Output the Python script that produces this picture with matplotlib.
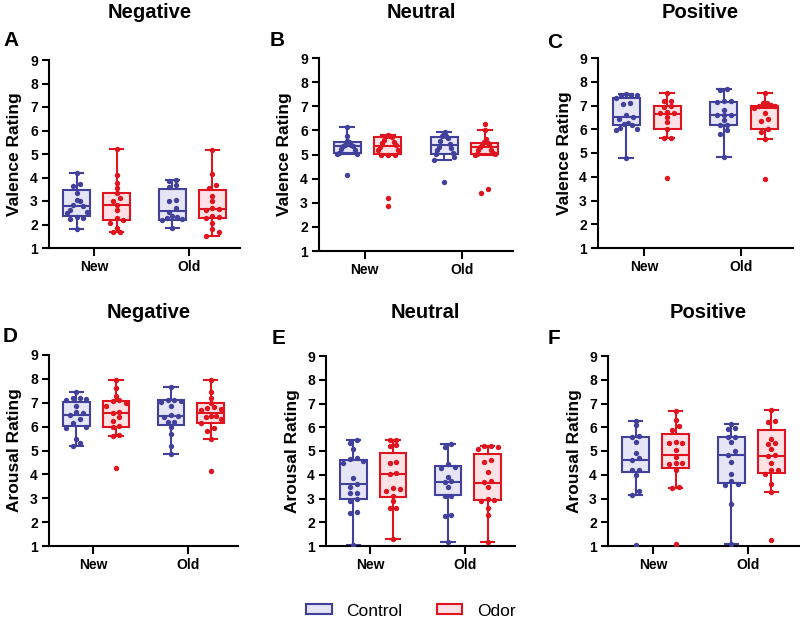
import numpy as np
import matplotlib
matplotlib.use("Agg")
import matplotlib.pyplot as plt
from matplotlib.patches import Patch

plt.rcParams['font.family'] = ['Liberation Sans', 'DejaVu Sans']

groups = ["New", "Old"]
conditions = ["Control", "Odor"]
panel_letters = ["A", "B", "C", "D", "E", "F"]
panel_titles = ["Negative", "Neutral", "Positive", "Negative", "Neutral", "Positive"]
ylabels = ["Valence Rating"] * 3 + ["Arousal Rating"] * 3
yticks = [1, 2, 3, 4, 5, 6, 7, 8, 9]

# ---- individual ratings (order within panel: Control-New, Odor-New, Control-Old, Odor-Old)
A_pts = [
    [4.2, 3.72, 3.62, 3.35, 3.05, 3.0, 2.85, 2.78, 2.62, 2.52, 2.48, 2.3, 2.28, 2.22, 1.82],
    [5.2, 4.1, 3.78, 3.55, 3.33, 3.12, 2.98, 2.82, 2.62, 2.28, 2.2, 2.05, 1.85, 1.68, 1.68],
    [3.9, 3.87, 3.68, 3.6, 3.05, 3.0, 2.7, 2.55, 2.35, 2.3, 2.28, 2.25, 2.2, 1.85],
    [5.15, 4.14, 3.68, 3.55, 3.2, 3.02, 2.7, 2.65, 2.6, 2.35, 2.3, 2.28, 2.05, 1.82, 1.68, 1.52],
]
B_pts = [
    [6.12, 5.78, 5.55, 5.5, 5.4, 5.38, 5.36, 5.35, 5.22, 5.2, 5.05, 5.03, 5.02, 4.17],
    [5.8, 5.78, 5.75, 5.72, 5.6, 5.5, 5.48, 5.4, 5.3, 5.2, 5.18, 5.0, 4.98, 4.97, 3.2, 2.85],
    [5.93, 5.8, 5.78, 5.75, 5.7, 5.55, 5.45, 5.32, 5.28, 5.2, 5.05, 5.03, 4.9, 4.78, 3.88],
    [6.28, 6.0, 5.65, 5.5, 5.48, 5.4, 5.38, 5.3, 5.2, 5.18, 5.05, 5.03, 5.02, 5.0, 3.55, 3.42],
]
C_pts = [
    [7.47, 7.46, 7.45, 7.44, 7.3, 7.1, 7.05, 6.6, 6.5, 6.45, 6.25, 6.22, 6.2, 6.05, 6.0, 5.95, 4.8],
    [7.53, 7.2, 7.18, 7.0, 6.95, 6.72, 6.7, 6.68, 6.5, 6.3, 6.0, 5.65, 5.62, 3.95],
    [7.68, 7.66, 7.2, 7.18, 7.15, 6.8, 6.62, 6.6, 6.58, 6.4, 6.2, 6.18, 5.95, 5.8, 4.85],
    [7.53, 7.12, 7.1, 7.02, 7.0, 6.98, 6.9, 6.7, 6.45, 6.35, 6.0, 5.9, 5.6, 3.92],
]
D_pts = [
    [7.47, 7.2, 7.18, 7.15, 7.1, 6.85, 6.6, 6.55, 6.5, 6.3, 6.15, 6.0, 5.95, 5.5, 5.3, 5.2],
    [7.96, 7.6, 7.3, 7.1, 7.08, 7.0, 6.85, 6.62, 6.58, 6.4, 6.25, 6.02, 5.98, 5.63, 5.6, 4.27],
    [7.68, 7.12, 7.1, 7.08, 7.05, 6.85, 6.5, 6.45, 6.4, 6.2, 6.18, 6.0, 5.7, 5.2, 4.85],
    [7.96, 7.45, 7.2, 7.0, 6.82, 6.78, 6.72, 6.68, 6.45, 6.43, 6.42, 6.3, 6.15, 5.95, 5.8, 5.47, 4.15],
]
E_pts = [
    [5.48, 5.35, 5.1, 4.7, 4.65, 4.6, 4.5, 3.85, 3.62, 3.5, 3.25, 3.22, 2.98, 2.9, 2.45, 2.4, 1.04],
    [5.48, 5.47, 5.25, 5.22, 4.55, 4.5, 4.08, 4.02, 3.45, 3.42, 3.3, 3.1, 2.9, 2.6, 2.58, 1.28],
    [5.3, 5.15, 4.45, 4.32, 4.28, 3.9, 3.72, 3.68, 3.5, 3.12, 3.1, 2.3, 2.25, 1.18],
    [5.22, 5.2, 5.18, 5.1, 4.62, 4.55, 4.1, 3.72, 3.68, 3.5, 2.98, 2.95, 2.9, 2.62, 2.3, 1.15],
]
F_pts = [
    [6.28, 6.1, 5.62, 5.58, 5.4, 4.9, 4.72, 4.62, 4.2, 4.18, 4.0, 3.3, 3.14, 1.05],
    [6.67, 6.3, 6.05, 5.9, 5.37, 5.35, 5.33, 5.05, 4.75, 4.5, 4.48, 4.46, 4.2, 3.5, 3.46, 1.1],
    [6.15, 5.95, 5.93, 5.6, 5.58, 5.4, 5.0, 4.85, 4.55, 4.05, 3.75, 3.62, 3.58, 2.75, 1.1],
    [6.71, 6.25, 6.22, 5.5, 5.32, 5.28, 5.1, 4.82, 4.78, 4.5, 4.2, 4.18, 4.05, 3.6, 3.28, 1.25],
]

# ---- box statistics (same order)
A_q1 = [2.35, 2.18, 2.2, 2.27]
A_med = [2.77, 2.81, 2.56, 2.67]
A_q3 = [3.47, 3.34, 3.51, 3.45]
A_lo = [1.82, 1.68, 1.85, 1.52]
A_hi = [4.2, 5.2, 3.9, 5.15]

B_q1 = [5.06, 5.03, 5.03, 5.03]
B_med = [5.35, 5.35, 5.41, 5.31]
B_q3 = [5.52, 5.72, 5.72, 5.47]
B_lo = [5.02, 4.97, 4.78, 5.0]
B_hi = [6.12, 5.8, 5.93, 6.0]

C_q1 = [6.2, 5.99, 6.17, 5.99]
C_med = [6.52, 6.66, 6.62, 6.9]
C_q3 = [7.3, 6.99, 7.15, 6.99]
C_lo = [4.8, 5.62, 4.85, 5.6]
C_hi = [7.47, 7.53, 7.68, 7.53]

D_q1 = [6.03, 6.0, 6.07, 6.14]
D_med = [6.49, 6.59, 6.45, 6.56]
D_q3 = [7.05, 7.09, 7.12, 6.98]
D_lo = [5.2, 5.6, 4.85, 5.47]
D_hi = [7.47, 7.96, 7.68, 7.96]

E_q1 = [3.0, 3.07, 3.14, 2.93]
E_med = [3.63, 4.05, 3.7, 3.66]
E_q3 = [4.61, 4.92, 4.37, 4.89]
E_lo = [1.04, 1.28, 1.18, 1.15]
E_hi = [5.48, 5.48, 5.3, 5.22]

F_q1 = [4.12, 4.3, 3.66, 4.08]
F_med = [4.64, 4.82, 4.85, 4.78]
F_q3 = [5.59, 5.73, 5.59, 5.87]
F_lo = [3.14, 3.46, 1.1, 3.28]
F_hi = [6.28, 6.67, 6.15, 6.71]

all_pts = [A_pts, B_pts, C_pts, D_pts, E_pts, F_pts]
all_stats = [
    (A_q1, A_med, A_q3, A_lo, A_hi),
    (B_q1, B_med, B_q3, B_lo, B_hi),
    (C_q1, C_med, C_q3, C_lo, C_hi),
    (D_q1, D_med, D_q3, D_lo, D_hi),
    (E_q1, E_med, E_q3, E_lo, E_hi),
    (F_q1, F_med, F_q3, F_lo, F_hi),
]

# ---- style
edge_cols = ["#41419c", "#e0141e"]
fill_cols = ["#e5e5f5", "#fce2e5"]
W, H = 800, 622
# axes rectangles in pixels: (left, right, top, bottom)
rects = [
    (49, 240, 60, 248), (319, 513, 58, 251), (598, 793, 58, 248),
    (49, 238, 355, 546), (326, 515, 356, 546), (608, 799, 356, 546),
]
letter_pos = [(3, 41), (270, 41), (547, 42), (3, 337), (272, 338), (548, 338)]
box_off = [-0.21, 0.21]
box_w = 0.28


def swarm_offsets(vals, step=0.07, tol=0.16, maxhalf=0.105):
    """Deterministic beeswarm-like horizontal spread for nearby values."""
    vals = np.asarray(vals, dtype=float)
    order = np.argsort(vals)
    sv = vals[order]
    off = np.zeros(len(vals))
    start = 0
    for i in range(1, len(sv) + 1):
        if i == len(sv) or sv[i] - sv[i - 1] > tol:
            idx = order[start:i]
            k = len(idx)
            if k > 1:
                half = min(maxhalf, step * (k - 1) / 2)
                slots = np.linspace(-half, half, k)
                # zig-zag: alternate sides so the cluster does not form a diagonal
                perm = []
                lo_i, hi_i = 0, k - 1
                while lo_i <= hi_i:
                    perm.append(lo_i)
                    if hi_i != lo_i:
                        perm.append(hi_i)
                    lo_i += 1
                    hi_i -= 1
                off[idx] = slots[perm]
            start = i
    return off


fig = plt.figure(figsize=(W / 100, H / 100), dpi=100)

for p in range(6):
    l, r, t, b = rects[p]
    ax = fig.add_axes([l / W, 1 - b / H, (r - l) / W, (b - t) / H])
    q1, med, q3, lo, hi = all_stats[p]
    pts = all_pts[p]
    for gi in range(2):
        for ci in range(2):
            k = gi * 2 + ci
            pos = gi + box_off[ci]
            st = [dict(q1=q1[k], med=med[k], q3=q3[k], whislo=lo[k], whishi=hi[k], fliers=[])]
            lp = dict(color=edge_cols[ci], linewidth=1.5)
            ax.bxp(st, positions=[pos], widths=box_w, capwidths=box_w * 0.5,
                   patch_artist=True, showfliers=False,
                   boxprops=dict(facecolor=fill_cols[ci], edgecolor=edge_cols[ci], linewidth=1.5),
                   medianprops=lp, whiskerprops=lp, capprops=lp, manage_ticks=False)
            offs = swarm_offsets(pts[k])
            ax.scatter(pos + offs, pts[k], s=15, color=edge_cols[ci], zorder=5, linewidths=0)
    ax.set_xlim(-0.5, 1.5)
    ax.set_ylim(1, 9)
    ax.set_yticks(yticks)
    ax.set_xticks([-0.03, 0.97])
    ax.set_xticklabels(groups)
    for s in ["top", "right"]:
        ax.spines[s].set_visible(False)
    for s in ["left", "bottom"]:
        ax.spines[s].set_linewidth(1.5)
    ax.tick_params(axis="x", length=6, width=1.5, pad=2.5, labelsize=10)
    ax.tick_params(axis="y", length=5, width=1.5, pad=3, labelsize=10)
    for lab in ax.get_xticklabels() + ax.get_yticklabels():
        lab.set_fontweight("bold")
    # y label
    fig.text((l - 34) / W, 1 - ((t + b) / 2) / H, ylabels[p], rotation=90,
             ha="center", va="center", fontsize=12.5, fontweight="bold")
    # title
    fig.text(((l + r) / 2 + 5) / W, 1 - (12 if p < 3 else 312) / H, panel_titles[p],
             ha="center", va="center", fontsize=14.5, fontweight="bold")
    # letter
    lx, ly = letter_pos[p]
    fig.text(lx / W, 1 - ly / H, panel_letters[p], ha="left", va="center",
             fontsize=15, fontweight="bold")

handles = [Patch(facecolor=fill_cols[i], edgecolor=edge_cols[i], linewidth=1.5) for i in range(2)]
fig.legend(handles, conditions, loc="center", bbox_to_anchor=(411 / W, 1 - 611 / H),
           ncol=2, frameon=False, fontsize=12.5, handlelength=1.45, handleheight=0.5,
           handletextpad=0.85, columnspacing=2.0)

fig.savefig("out.png", dpi=100)
